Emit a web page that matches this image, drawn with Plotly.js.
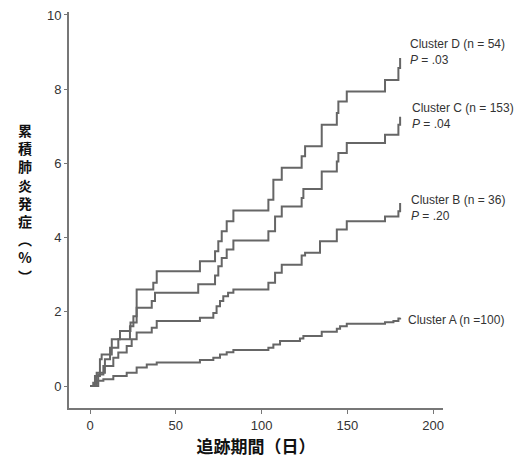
<!DOCTYPE html>
<html>
<head>
<meta charset="utf-8">
<script src="https://cdn.plot.ly/plotly-3.0.1.min.js"></script>
<style>html,body{margin:0;padding:0;background:#fff;}#chart{width:525px;height:459px;}</style>
</head>
<body>
<div id="chart"></div>
<script>
// Step data: day of event, cumulative incidence (%) after event
const daysD = [0, 2.9, 5.8, 6.8, 12.7, 17.5, 23.6, 27.2, 36.9, 38.9, 64.1, 72.9, 74.8, 76.8, 79.7, 83.6, 104.0, 106.9, 111.8, 123.4, 125.4, 135.1, 143.9, 144.8, 149.7, 172.0, 179.8, 180.8];
const pctD  = [0, 0.27, 0.72, 0.85, 1.26, 1.48, 1.71, 2.60, 2.78, 3.09, 3.36, 3.63, 3.90, 4.17, 4.44, 4.73, 5.02, 5.56, 5.88, 6.19, 6.46, 7.04, 7.36, 7.67, 7.94, 8.25, 8.57, 8.84];

const daysC = [0, 3.9, 8.7, 11.7, 16.5, 23.3, 25.3, 27.2, 36.0, 37.9, 63.1, 72.9, 74.8, 76.8, 79.7, 83.6, 104.0, 107.9, 111.8, 123.4, 124.4, 135.1, 143.9, 144.8, 149.7, 172.0, 179.8, 180.8];
const pctC  = [0, 0.36, 0.72, 1.03, 1.26, 1.61, 1.88, 2.11, 2.29, 2.51, 2.74, 2.98, 3.23, 3.45, 3.68, 3.92, 4.17, 4.57, 4.84, 5.07, 5.31, 5.78, 6.05, 6.28, 6.55, 6.77, 7.04, 7.26];

const daysB = [0, 4.8, 7.8, 13.6, 16.5, 21.4, 24.3, 27.2, 36.0, 38.9, 64.1, 71.9, 73.8, 75.8, 77.7, 80.5, 83.6, 104.0, 107.9, 111.8, 123.4, 125.4, 134.1, 143.9, 149.7, 172.0, 179.8, 180.8];
const pctB  = [0, 0.31, 0.54, 0.76, 0.90, 1.08, 1.26, 1.44, 1.57, 1.75, 1.84, 1.97, 2.15, 2.29, 2.42, 2.51, 2.60, 2.78, 3.05, 3.27, 3.52, 3.59, 3.90, 4.22, 4.44, 4.57, 4.71, 4.93];

const daysA = [0, 1.9, 4.7, 7.8, 13.6, 21.4, 27.2, 33.1, 38.9, 64.1, 71.9, 75.8, 79.7, 83.6, 104.0, 106.9, 110.8, 122.4, 124.4, 135.1, 143.9, 145.8, 149.7, 172.0, 176.9, 179.8, 180.8];
const pctA  = [0, 0.09, 0.14, 0.18, 0.27, 0.36, 0.50, 0.58, 0.63, 0.70, 0.76, 0.85, 0.91, 0.97, 1.03, 1.12, 1.21, 1.28, 1.35, 1.46, 1.54, 1.61, 1.68, 1.72, 1.75, 1.82, 1.84];

const labelLines = [
  ["Cluster D (n = 54)", "<i>P</i> = .03"],
  ["Cluster C (n = 153)", "<i>P</i> = .04"],
  ["Cluster B (n = 36)", "<i>P</i> = .20"],
  ["Cluster A (n =100)"]
];

const xTicks = [0, 50, 100, 150, 200];
const yTicks = [0, 2, 4, 6, 8, 10];
const xTitle = "追跡期間（日）";
const yTitleChars = ["累", "積", "肺", "炎", "発", "症", "︵", "%", "︶"];

const lineStyle = {color: "#666666", width: 2, shape: "hv"};
const series = [[daysD, pctD], [daysC, pctC], [daysB, pctB], [daysA, pctA]];
const traces = series.map(s => ({
  x: s[0], y: s[1], type: "scatter", mode: "lines", line: lineStyle, hoverinfo: "skip", showlegend: false
}));

const fontFam = "Liberation Sans, Arial, sans-serif";
const annotations = [];
// Cluster labels (two lines where a P value is given)
const labelYPx = [51.7, 116.5, 207.5, 320];
const labelXPx = [408, 410, 409, 406];
labelLines.forEach((lines, i) => {
  annotations.push({
    xref: "paper", yref: "paper",
    x: (labelXPx[i] - 69) / 374, y: 1 - (labelYPx[i] - 12) / 396,
    xanchor: "left", yanchor: "middle", align: "left",
    text: lines.join("<br>"), showarrow: false,
    font: {family: fontFam, size: 12, color: "#333333"}
  });
});
// Vertical y-axis title (upright stacked characters)
annotations.push({
  xref: "paper", yref: "paper",
  x: (25 - 69) / 374, y: 1 - (203 - 12) / 396,
  xanchor: "center", yanchor: "middle", align: "center",
  text: "<b>" + yTitleChars.join("<br>") + "</b>", showarrow: false,
  font: {family: "Noto Sans CJK JP, sans-serif", size: 14, color: "#111111"}
});

const layout = {
  width: 525, height: 459,
  margin: {l: 69, r: 82, t: 12, b: 51, pad: 0},
  paper_bgcolor: "#ffffff", plot_bgcolor: "#ffffff",
  showlegend: false,
  xaxis: {
    range: [-12.24, 205.8], tickvals: xTicks, ticktext: xTicks.map(String),
    showgrid: false, zeroline: false, showline: true, linecolor: "#777777", linewidth: 2,
    ticks: "outside", ticklen: 4, tickwidth: 1, tickcolor: "#777777",
    tickfont: {family: fontFam, size: 13, color: "#333333"},
    title: {text: "<b>" + xTitle + "</b>", font: {family: "Noto Sans CJK JP, sans-serif", size: 17, color: "#111111"}, standoff: 8}
  },
  yaxis: {
    range: [-0.593, 10.08], tickvals: yTicks, ticktext: yTicks.map(String),
    showgrid: false, zeroline: false, showline: true, linecolor: "#777777", linewidth: 2,
    ticks: "outside", ticklen: 3, tickwidth: 1, tickcolor: "#777777",
    tickfont: {family: fontFam, size: 13, color: "#333333"}
  },
  annotations: annotations
};

Plotly.newPlot("chart", traces, layout, {displayModeBar: false, staticPlot: true});
</script>
</body>
</html>
